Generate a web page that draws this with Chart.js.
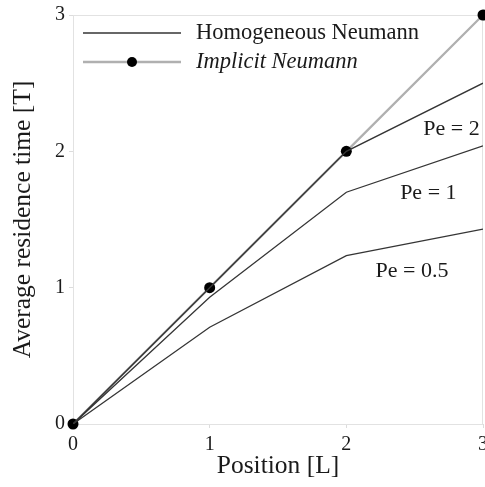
<!DOCTYPE html>
<html>
<head>
<meta charset="utf-8">
<script src="https://cdn.jsdelivr.net/npm/chart.js@4/dist/chart.umd.min.js"></script>
<style>
  html, body { margin: 0; padding: 0; background: #fff; overflow: hidden; }
  #wrap { width: 485px; height: 487px; }
</style>
</head>
<body>
<div id="wrap"><canvas id="residencia"></canvas></div>
<script>
// Datos
const posiciones = [0, 1, 2, 3];
const implicitNeumann = [0, 1, 2, 3];
const pe2 = [0, 1.0, 2.0, 2.5];
const pe1 = [0, 0.93, 1.70, 2.04];
const pe05 = [0, 0.71, 1.235, 1.43];
const ticksX = [0, 1, 2, 3];
const ticksY = [0, 1, 2, 3];
const peTextos = ['Pe = 2', 'Pe = 1', 'Pe = 0.5'];
const peTextoX = [2.77, 2.60, 2.48];
const peTextoY = [2.16, 1.69, 1.12];

const serif = "'Liberation Serif', 'Times New Roman', serif";
const oscuro = '#353535';
const gris = '#b0b0b0';
const texto = '#1a1a1a';

function puntos(ys) {
    return posiciones.map((x, i) => ({ x: x, y: ys[i] }));
}

// marco gris claro alrededor del area
const marco = {
    id: 'marco',
    beforeDatasetsDraw(chart) {
        const a = chart.chartArea, c = chart.ctx;
        c.save();
        c.strokeStyle = '#e2e2e2';
        c.lineWidth = 1;
        c.strokeRect(a.left + 0.5, a.top + 0.5, a.right - a.left - 1, a.bottom - a.top);
        c.restore();
    }
};

// leyenda y etiquetas Pe dentro del grafico
const textos = {
    id: 'textos',
    afterDraw(chart) {
        const c = chart.ctx, sx = chart.scales.x, sy = chart.scales.y;
        c.save();
        c.textBaseline = 'middle';
        // leyenda
        c.lineWidth = 1.3;
        c.strokeStyle = oscuro;
        c.beginPath(); c.moveTo(83, 33); c.lineTo(181, 33); c.stroke();
        c.lineWidth = 2.5;
        c.strokeStyle = gris;
        c.beginPath(); c.moveTo(83, 62); c.lineTo(181, 62); c.stroke();
        c.fillStyle = '#000';
        c.beginPath(); c.arc(132, 62, 5, 0, Math.PI * 2); c.fill();
        c.fillStyle = texto;
        c.textAlign = 'left';
        c.font = '22.5px ' + serif;
        c.fillText('Homogeneous Neumann', 196, 33);
        c.font = 'italic 22.5px ' + serif;
        c.fillText('Implicit Neumann', 196, 62);
        // etiquetas Pe
        c.font = '22px ' + serif;
        c.textAlign = 'center';
        peTextos.forEach((t, i) => {
            c.fillText(t, sx.getPixelForValue(peTextoX[i]), sy.getPixelForValue(peTextoY[i]));
        });
        c.restore();
    }
};

const canvas = document.getElementById('residencia');
if (canvas) {
    const ctx = canvas.getContext('2d');
    new Chart(ctx, {
        type: 'line',
        data: {
            datasets: [
                {
                    label: 'Implicit Neumann',
                    data: puntos(implicitNeumann),
                    borderColor: gris,
                    borderWidth: 2.3,
                    pointRadius: 5.5,
                    pointBackgroundColor: '#000',
                    pointBorderWidth: 0,
                    clip: false,
                    order: 3
                },
                {
                    label: 'Pe = 2',
                    data: puntos(pe2),
                    borderColor: oscuro,
                    borderWidth: 1.4,
                    pointRadius: 0,
                    order: 0
                },
                {
                    label: 'Pe = 1',
                    data: puntos(pe1),
                    borderColor: oscuro,
                    borderWidth: 1.3,
                    pointRadius: 0,
                    order: 1
                },
                {
                    label: 'Pe = 0.5',
                    data: puntos(pe05),
                    borderColor: oscuro,
                    borderWidth: 1.3,
                    pointRadius: 0,
                    order: 2
                }
            ]
        },
        options: {
            responsive: true,
            maintainAspectRatio: false,
            animation: false,
            layout: { autoPadding: false, padding: { top: 15, right: 2, left: 0, bottom: 0 } },
            plugins: {
                legend: { display: false },
                tooltip: { enabled: false }
            },
            scales: {
                x: {
                    type: 'linear',
                    min: 0,
                    max: 3,
                    afterBuildTicks: (ax) => { ax.ticks = ticksX.map(v => ({ value: v })); },
                    afterFit: (ax) => { ax.height = 63; ax.paddingRight = 0; ax.paddingLeft = 0; },
                    grid: { drawOnChartArea: false, color: '#dcdcdc', tickLength: 4 },
                    border: { color: '#dcdcdc' },
                    ticks: { color: texto, font: { family: serif, size: 20 }, padding: 5, maxRotation: 0 },
                    title: {
                        display: true,
                        text: 'Position [L]',
                        color: texto,
                        font: { family: serif, size: 25.5 },
                        padding: { top: 0, bottom: 5 }
                    }
                },
                y: {
                    type: 'linear',
                    min: 0,
                    max: 3,
                    afterBuildTicks: (ax) => { ax.ticks = ticksY.map(v => ({ value: v })); },
                    afterFit: (ax) => { ax.width = 73; ax.paddingTop = 0; ax.paddingBottom = 0; },
                    grid: { drawOnChartArea: false, color: '#dcdcdc', tickLength: 4 },
                    border: { color: '#dcdcdc' },
                    ticks: { color: texto, font: { family: serif, size: 20 }, padding: 4 },
                    title: {
                        display: true,
                        text: 'Average residence time [T]',
                        color: texto,
                        font: { family: serif, size: 25.5 },
                        padding: { top: 8, bottom: 0 }
                    }
                }
            }
        },
        plugins: [marco, textos]
    });
}
</script>
</body>
</html>
